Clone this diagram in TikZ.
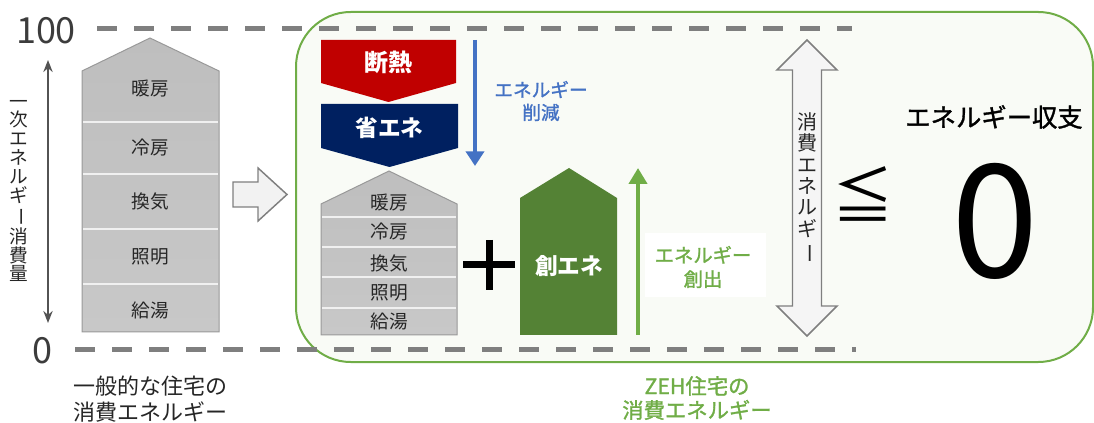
\documentclass[tikz,border=0pt]{standalone}
\usepackage{fontspec}
\usepackage{graphicx}
\setmainfont{Noto Sans CJK JP}
\newfontfamily\semibold[FakeBold=1.3]{Noto Sans CJK JP}
\usetikzlibrary{arrows.meta}

\definecolor{zehgreen}{RGB}{112,173,71}
\definecolor{soenegreen}{RGB}{84,130,53}
\definecolor{dannetsured}{RGB}{192,0,0}
\definecolor{shoenenavy}{RGB}{0,32,96}
\definecolor{sakugenblue}{RGB}{68,114,196}
\definecolor{dashgray}{RGB}{127,127,127}
\definecolor{boxfill}{RGB}{249,251,246}
\definecolor{labelgray}{RGB}{38,38,38}
\definecolor{housetop}{RGB}{190,190,190}
\definecolor{housemid}{RGB}{166,166,166}
\definecolor{housebot}{RGB}{200,200,200}

\newcommand{\tatebar}{\rotatebox[origin=c]{-90}{ー}}

\tikzset{every picture/.style={line width=0.75pt},
  house/.style={draw=gray!80, line width=0.75pt, shading=axis, top color=housetop, middle color=housemid, bottom color=housebot},
  bandline/.style={draw=white!88!gray, line width=1.5pt},
  bandlabel/.style={inner sep=0.75pt, text=labelgray, font=\fontsize{14}{16}\selectfont},
  dashline/.style={draw=dashgray, line width=3.75pt, dash pattern=on 15pt off 12.75pt},
  boxlabel/.style={inner sep=0.75pt, text=white, font=\bfseries\fontsize{17}{19}\selectfont},
  hollow/.style={draw=dashgray, line width=1.1pt, fill=gray!10, line join=miter}}

\begin{document}
\begin{tikzpicture}[x=0.75pt,y=0.75pt,yscale=-1,xscale=1]
\useasboundingbox (0,0) rectangle (1094,423);
%Rounded Rect: ZEH frame
\draw [draw=zehgreen, fill=boxfill, line width=1.5pt, rounded corners=41pt] (296,12) rectangle (1093,362) ;
%Straight Lines: 100 and 0 levels
\draw [dashline] (97,29) -- (852,29) ;
\draw [dashline] (75,350) -- (856,350) ;
% Text Node
\draw (46,31) node (top) [inner sep=0.75pt, text=labelgray!90!white, font=\fontsize{27}{29}\selectfont] {100};
% Text Node
\draw (42,351) node (bottom) [inner sep=0.75pt, text=labelgray!90!white, font=\fontsize{27}{29}\selectfont] {0};
%Straight Lines: axis arrow
\coordinate (axtop) at (48,60);
\coordinate (axbot) at (48,323);
\draw [draw=gray!65!black, line width=1.5pt, {Stealth[length=9pt,width=7pt]}-{Stealth[length=9pt,width=7pt]}] (axtop) -- (axbot) ;
% Text Node
\draw (19,191) node (axis) [inner sep=0pt, align=center, text=labelgray, font=\fontsize{14}{14.1}\selectfont] {一\\次\\エ\\ネ\\ル\\ギ\\\tatebar\\消\\費\\量};

%Shape: general house
\draw [house] (82,71) -- (150,38) -- (219,71) -- (219,332) -- (82,332) -- cycle ;
\draw [bandline] (83,122) -- (218,122) ;
\draw [bandline] (83,174) -- (218,174) ;
\draw [bandline] (83,229) -- (218,229) ;
\draw [bandline] (83,284) -- (218,284) ;
% Text Node
\draw (150,89) node (heat) [bandlabel] {暖房};
\draw (150,148) node (cool) [bandlabel] {冷房};
\draw (150,201) node (vent) [bandlabel] {換気};
\draw (150,257) node (light) [bandlabel] {照明};
\draw (150,310) node (water) [bandlabel] {給湯};
% Text Node
\draw (150,399) node (general) [inner sep=0.75pt, align=center, text=labelgray, font=\fontsize{16.5}{19.5}\selectfont] {一般的な住宅の\\消費エネルギー};

%Shape: hollow arrow
\draw [hollow] (233,182) -- (258,182) -- (258,168) -- (287,194.5) -- (258,221) -- (258,207) -- (233,207) -- cycle ;

%Shape: insulation
\draw [draw=none, fill=dannetsured] (321,40) -- (456,40) -- (456,83) -- (388.5,102) -- (321,83) -- cycle ;
\draw (388.5,62) node (dannetsu) [boxlabel, font=\bfseries\fontsize{18}{20}\selectfont] {断熱};
%Shape: energy saving
\draw [draw=none, fill=shoenenavy] (321,104) -- (458,104) -- (458,148) -- (389.5,167) -- (321,148) -- cycle ;
\draw (389.5,128) node (shoene) [boxlabel] {省エネ};

%Straight Lines: reduction arrow
\coordinate (cuttop) at (475,40);
\coordinate (cutbot) at (475,166);
\draw [draw=sakugenblue, line width=3.5pt, -{Triangle[length=11pt,width=13.5pt]}] (cuttop) -- (cutbot) ;
% Text Node
\draw (541,101) node (cut) [inner sep=0.75pt, align=center, text=sakugenblue, font=\semibold\fontsize{14}{17}\selectfont] {エネルギー\\削減};

%Shape: ZEH house
\draw [house] (321,204) -- (389,171) -- (457,204) -- (457,335) -- (321,335) -- cycle ;
\draw [bandline] (322,217) -- (456,217) ;
\draw [bandline] (322,247) -- (456,247) ;
\draw [bandline] (322,277) -- (456,277) ;
\draw [bandline] (322,308) -- (456,308) ;
% Text Node
\draw (389,203) node (zheat) [bandlabel] {暖房};
\draw (389,232) node (zcool) [bandlabel] {冷房};
\draw (389,263) node (zvent) [bandlabel] {換気};
\draw (389,293) node (zlight) [bandlabel] {照明};
\draw (389,321) node (zwater) [bandlabel] {給湯};

%Straight Lines: plus
\draw [line width=5.25pt] (463,265) -- (515,265) ;
\draw [line width=5.25pt] (489,240) -- (489,290) ;

%Shape: energy creation
\draw [draw=none, fill=soenegreen] (520,198) -- (569,168) -- (617,198) -- (617,335) -- (520,335) -- cycle ;
\draw (569,266) node (soene) [boxlabel] {創エネ};

%Straight Lines: creation arrow
\coordinate (makebot) at (638,335);
\coordinate (maketop) at (638,168);
\draw [draw=zehgreen, line width=3.5pt, -{Triangle[length=12pt,width=13.5pt]}] (makebot) -- (maketop) ;
% Text Node
\fill [white] (645,233) rectangle (766,297) ;
\draw (703,267) node (make) [inner sep=0.75pt, align=center, text=zehgreen, font=\semibold\fontsize{14.5}{18}\selectfont] {エネルギー\\創出};

%Shape: consumption double arrow
\draw [hollow, fill=gray!8] (807,40) -- (837,70) -- (821.5,70) -- (821.5,306) -- (837,306) -- (807,336) -- (777,306) -- (792.5,306) -- (792.5,70) -- (777,70) -- cycle ;
% Text Node
\draw (807,188) node (use) [inner sep=0pt, align=center, text=labelgray, font=\fontsize{15}{16}\selectfont] {消\\費\\エ\\ネ\\ル\\ギ\\\tatebar};

% Text Node
\draw (863,194) node (leq) [inner sep=0pt, font=\fontsize{46}{48}\selectfont] {≦};
% Text Node
\draw (994,117) node (balance) [inner sep=0.75pt, font=\semibold\fontsize{19}{21}\selectfont] {エネルギー収支};
% Text Node
\draw (995,221) node (zero) [inner sep=0pt, font=\fontsize{118}{120}\selectfont] {0};
% Text Node
\draw (697,398) node (zeh) [inner sep=0.75pt, align=center, text=zehgreen, font=\semibold\fontsize{16}{18}\selectfont] {ZEH住宅の\\消費エネルギー};
\end{tikzpicture}
\end{document}
